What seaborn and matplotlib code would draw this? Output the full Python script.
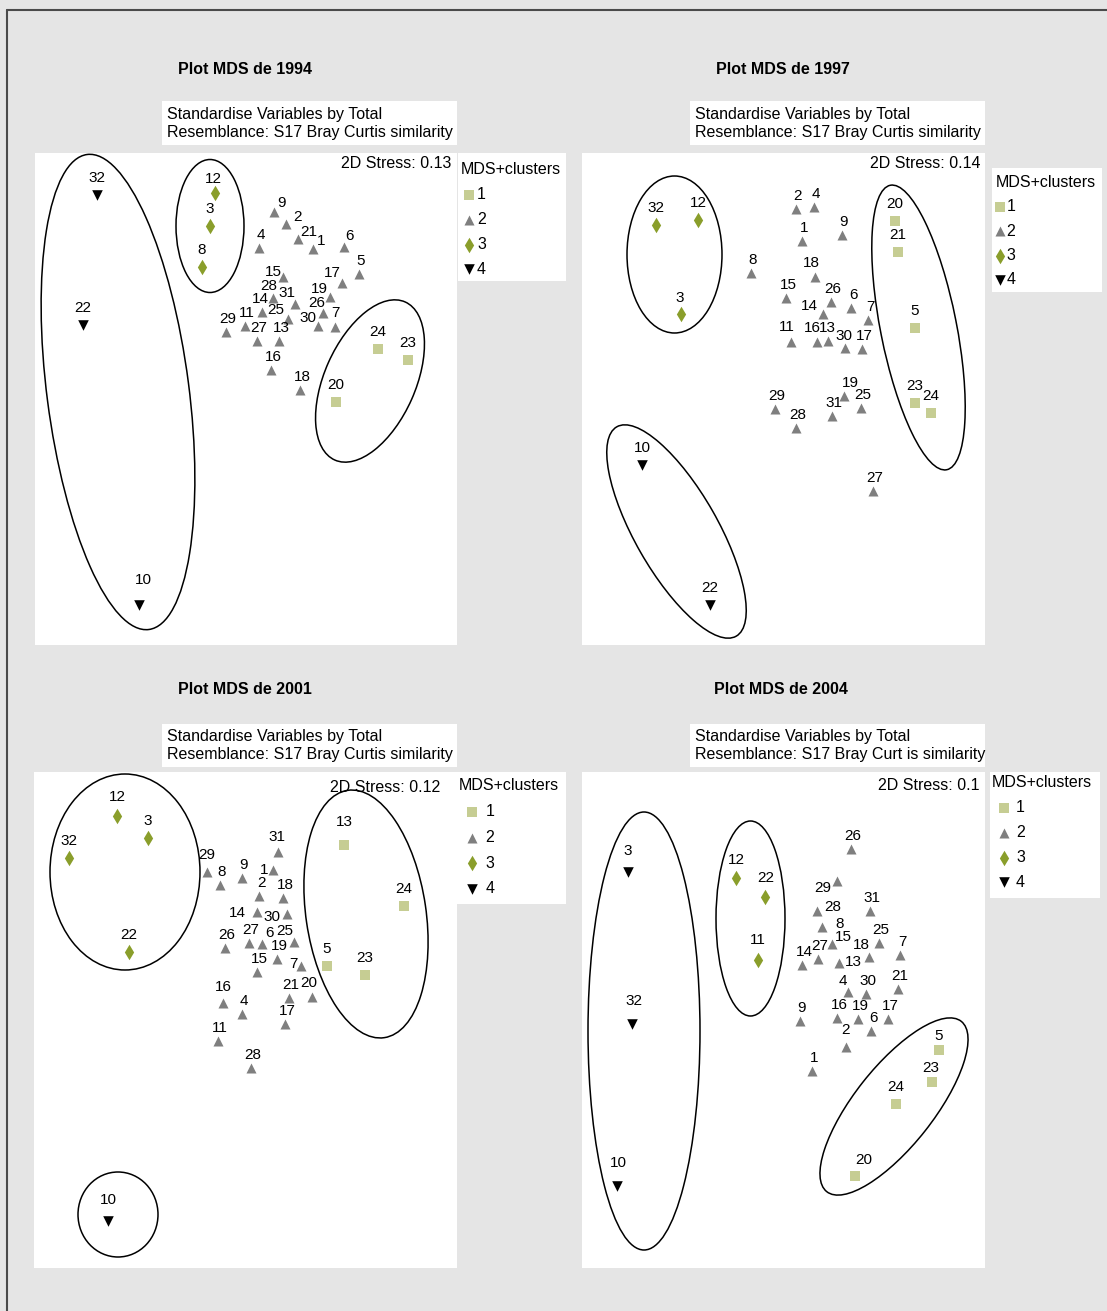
import pandas as pd
import matplotlib.pyplot as plt
from matplotlib.patches import Ellipse, Rectangle
from matplotlib.lines import Line2D
import seaborn as sns

# ----- DATA (MDS coordinates, samples 1..32) -----
IDS = list(range(1, 33))

X94 = [2.78, 2.51, 1.75, 2.24, 3.24, 3.09, 3.00, 1.67, 2.39, 1.04, 2.10, 1.80, 2.44, 2.27, 2.48, 2.36,
       3.07, 2.65, 2.95, 3.01, 2.63, 0.48, 3.73, 3.43, 2.53, 2.88, 2.22, 2.38, 1.91, 2.83, 2.60, 0.62]
Y94 = [3.96, 4.21, 4.19, 3.97, 3.71, 3.98, 3.18, 3.78, 4.33, 0.40, 3.19, 4.52, 3.04, 3.33, 3.68, 2.75,
       3.62, 2.55, 3.48, 2.43, 4.06, 3.20, 2.85, 2.96, 3.26, 3.32, 3.04, 3.47, 3.13, 3.19, 3.41, 4.50]
C94 = [2, 2, 3, 2, 2, 2, 2, 3, 2, 4, 2, 3, 2, 2, 2, 2, 2, 2, 2, 1, 2, 4, 1, 1, 2, 2, 2, 2, 2, 2, 2, 4]

X97 = [2.20, 2.14, 0.99, 2.32, 3.33, 2.69, 2.86, 1.69, 2.60, 0.60, 2.09, 1.16, 2.46, 2.41, 2.04, 2.35,
       2.80, 2.33, 2.62, 3.13, 3.16, 1.28, 3.33, 3.49, 2.79, 2.49, 2.91, 2.14, 1.93, 2.63, 2.50, 0.74]
Y97 = [4.04, 4.36, 3.31, 4.38, 3.17, 3.37, 3.25, 3.72, 4.10, 1.80, 3.03, 4.25, 3.04, 3.31, 3.47, 3.03,
       2.96, 3.68, 2.49, 4.24, 3.93, 0.40, 2.42, 2.32, 2.37, 3.43, 1.54, 2.17, 2.36, 2.97, 2.29, 4.20]
C97 = [2, 2, 3, 2, 1, 2, 2, 2, 2, 4, 2, 3, 2, 2, 2, 2, 2, 2, 2, 1, 1, 4, 1, 1, 2, 2, 2, 2, 2, 2, 2, 3]

X01 = [2.39, 2.25, 1.14, 2.08, 2.93, 2.28, 2.67, 1.86, 2.08, 0.74, 1.84, 0.83, 3.10, 2.23, 2.23, 1.89,
       2.51, 2.49, 2.43, 2.78, 2.55, 0.95, 3.31, 3.70, 2.60, 1.91, 2.15, 2.17, 1.73, 2.53, 2.44, 0.35]
Y01 = [3.98, 3.72, 4.30, 2.54, 3.02, 3.24, 3.02, 3.83, 3.90, 0.47, 2.27, 4.52, 4.23, 3.56, 2.96, 2.65,
       2.44, 3.70, 3.09, 2.71, 2.70, 3.16, 2.93, 3.62, 3.26, 3.20, 3.25, 2.00, 3.96, 3.54, 4.16, 4.10]
C01 = [2, 2, 3, 2, 1, 2, 2, 2, 2, 4, 2, 3, 1, 2, 2, 2, 2, 2, 2, 2, 2, 3, 1, 1, 2, 2, 2, 2, 2, 2, 2, 3]

X04 = [2.30, 2.64, 0.46, 2.66, 3.57, 2.89, 3.18, 2.40, 2.18, 0.35, 1.76, 1.54, 2.57, 2.20, 2.50, 2.55,
       3.06, 2.87, 2.76, 2.73, 3.16, 1.83, 3.50, 3.14, 2.97, 2.69, 2.36, 2.35, 2.55, 2.84, 2.88, 0.50]
Y04 = [1.97, 2.21, 3.96, 2.76, 2.18, 2.37, 3.13, 3.41, 2.47, 0.82, 3.08, 3.90, 3.05, 3.03, 3.24, 2.50,
       2.49, 3.11, 2.49, 0.92, 2.79, 3.71, 1.86, 1.64, 3.25, 4.19, 3.09, 3.57, 3.87, 2.74, 3.57, 2.44]
C04 = [2, 2, 4, 2, 1, 2, 2, 2, 2, 4, 3, 3, 2, 2, 2, 2, 2, 2, 2, 1, 2, 3, 1, 1, 2, 2, 2, 2, 2, 2, 2, 4]

STRESS = ["0.13", "0.14", "0.12", "0.1"]
YEARS = [1994, 1997, 2001, 2004]
SUBTITLES = [
    "Standardise Variables by Total\nResemblance: S17 Bray Curtis similarity",
    "Standardise Variables by Total\nResemblance: S17 Bray Curtis similarity",
    "Standardise Variables by Total\nResemblance: S17 Bray Curtis similarity",
    "Standardise Variables by Total\nResemblance: S17 Bray Curt is similarity",
]

# cluster outlines: (centre x, centre y, width, height, angle)
ELLIPSES = [
    [(0.83, 2.53, 1.42, 4.79, 7.4), (1.75, 4.19, 0.68, 1.33, 0), (3.35, 2.64, 0.91, 1.73, -24)],
    [(0.925, 3.905, 0.95, 1.57, 0), (3.365, 3.175, 0.76, 2.90, 11.2), (0.945, 1.135, 0.83, 2.41, 29.7)],
    [(0.91, 3.96, 1.50, 1.96, 0), (3.32, 3.54, 1.20, 2.50, 8.4), (0.84, 0.535, 0.80, 0.85, 0)],
    [(0.62, 2.37, 1.12, 4.38, 0), (1.685, 3.495, 0.69, 1.95, 0), (3.12, 1.615, 0.79, 2.17, -38.3)],
]

# ----- STYLE / LAYOUT -----
sns.set_style("white")
plt.rcParams["font.family"] = ["Liberation Sans", "DejaVu Sans"]
plt.rcParams["text.color"] = "black"

W, H = 1107, 1311
BG = "#e5e5e5"

CLUSTER_STYLE = {
    1: ("s", "#c6cd93", 58),
    2: ("^", "#7f7f7f", 52),
    3: ("d", "#8a9e2b", 62),
    4: ("v", "black", 58),
}

# pixel boxes: plot area, title centre, subtitle box, stress anchor, legend box, legend anchor
LAYOUT = [
    dict(box=(35, 153, 457, 645), title=(245, 70), sub=(162, 101, 457, 145), stress=(451, 163),
         legbox=(458, 153, 566, 281), leg=(461, 162), hl=1.0, htp=0.0, ls=0.62),
    dict(box=(582, 153, 985, 645), title=(783, 70), sub=(690, 101, 985, 145), stress=(980, 163),
         legbox=(992, 168, 1102, 292), leg=(996, 175), hl=0.55, htp=0.1, ls=0.58),
    dict(box=(34, 772, 457, 1268), title=(245, 689), sub=(162, 724, 457, 767), stress=(440, 788),
         legbox=(457, 772, 566, 904), leg=(459, 778), hl=1.6, htp=0.05, ls=0.68),
    dict(box=(582, 772, 985, 1268), title=(781, 689), sub=(690, 724, 985, 767), stress=(979, 786),
         legbox=(990, 772, 1100, 898), leg=(992, 775), hl=1.5, htp=0.0, ls=0.62),
]

# label nudges in pixels (dx, dy up); default depends on marker
LABEL_NUDGE = [
    {10: (4, 25), 12: (-2, 14), 9: (7, 9), 2: (11, 7), 21: (11, 7), 1: (8, 8), 15: (-10, 5), 17: (-10, 10),
     28: (-4, 12), 31: (-8, 11), 19: (-11, 8), 14: (-2, 13), 25: (-12, 9), 26: (-6, 10), 30: (-10, 8),
     7: (0, 14), 6: (5, 11)},
    {14: (-14, 8), 18: (-4, 14), 16: (-5, 14), 11: (-4, 15), 19: (6, 13), 30: (-1, 12), 13: (-1, 13),
     3: (-1, 16)},
    {1: (-9, 0), 14: (-20, -1), 30: (-15, -3), 6: (8, 11), 25: (-9, 11), 7: (-8, 2), 13: (0, 23),
     10: (0, 21), 31: (-1, 15), 29: (0, 17), 16: (0, 16), 12: (0, 19), 20: (-3, 14)},
    {29: (-14, -7), 28: (16, 4), 8: (18, 3), 15: (11, 7), 18: (-8, 12), 13: (14, 1), 4: (-5, 11),
     20: (9, 16), 2: (0, 17), 3: (0, 21), 32: (2, 23), 10: (1, 23), 11: (0, 20), 22: (1, 19),
     12: (0, 18), 5: (0, 14), 23: (-1, 14)},
]


def fx(x):
    return x / W


def fy(y):
    return 1 - y / H


def white_box(x0, y0, x1, y1):
    fig.add_artist(Rectangle((fx(x0), fy(y1)), (x1 - x0) / W, (y1 - y0) / H,
                             transform=fig.transFigure, facecolor="white", edgecolor="none", zorder=0))


fig = plt.figure(figsize=(W / 100, H / 100), dpi=100, facecolor=BG)

# outer frame (left and top edges visible)
fig.add_artist(Line2D([fx(7), fx(7)], [0, fy(10)], transform=fig.transFigure, color="#4a4a4a", lw=1.5))
fig.add_artist(Line2D([fx(7), 1], [fy(10), fy(10)], transform=fig.transFigure, color="#4a4a4a", lw=1.5))

panels = [(X94, Y94, C94), (X97, Y97, C97), (X01, Y01, C01), (X04, Y04, C04)]

for p, (xs, ys, cs) in enumerate(panels):
    lay = LAYOUT[p]
    x0, y0, x1, y1 = lay["box"]

    white_box(*lay["legbox"])
    white_box(*lay["sub"])

    ax = fig.add_axes([fx(x0), fy(y1), (x1 - x0) / W, (y1 - y0) / H])
    ax.set_facecolor("white")

    df = pd.DataFrame({"id": IDS, "x": xs, "y": ys, "cluster": cs})

    for e in ELLIPSES[p]:
        ax.add_patch(Ellipse((e[0], e[1]), e[2], e[3], angle=e[4], fill=False,
                             edgecolor="black", lw=1.1, zorder=1))

    for k in [1, 2, 3, 4]:
        m, c, s = CLUSTER_STYLE[k]
        sub = df[df["cluster"] == k]
        sns.scatterplot(data=sub, x="x", y="y", marker=m, color=c, s=s, linewidth=0,
                        label=str(k), ax=ax, zorder=3)

    for _, r in df.iterrows():
        default = (2, 13) if r["cluster"] == 2 else (0, 17)
        dx, dy = LABEL_NUDGE[p].get(int(r["id"]), default)
        ax.annotate(str(int(r["id"])), (r["x"], r["y"]), xytext=(dx, dy), textcoords="offset pixels",
                    ha="center", va="center", fontsize=11, zorder=4)

    ax.set_xlim(0, (x1 - x0) / 100)
    ax.set_ylim(0, (y1 - y0) / 100)
    ax.set(xlabel="", ylabel="", xticks=[], yticks=[])
    sns.despine(ax=ax, left=True, bottom=True)

    handles, labels = ax.get_legend_handles_labels()
    lx, ly = lay["leg"]
    ax.legend(handles, labels, title="MDS+clusters", loc="upper left",
              bbox_to_anchor=(fx(lx), fy(ly)), bbox_transform=fig.transFigure,
              frameon=False, fontsize=11.5, title_fontsize=11.5, alignment="left",
              handlelength=lay["hl"], handletextpad=lay["htp"], labelspacing=lay["ls"],
              borderpad=0, borderaxespad=0, markerscale=1.0)

    # title
    tx, ty = lay["title"]
    fig.text(fx(tx), fy(ty), f"Plot MDS de {YEARS[p]}", ha="center", va="center",
             fontsize=11.5, fontweight="bold")

    # subtitle text
    sx0, sy0, sx1, sy1 = lay["sub"]
    fig.text(fx(sx0 + 5), fy((sy0 + sy1) / 2), SUBTITLES[p], ha="left", va="center",
             fontsize=11.5, linespacing=1.25)

    # stress
    stx, sty = lay["stress"]
    fig.text(fx(stx), fy(sty), f"2D Stress: {STRESS[p]}", ha="right", va="center", fontsize=11.5)

fig.savefig("out.png", dpi=100, facecolor=fig.get_facecolor())
